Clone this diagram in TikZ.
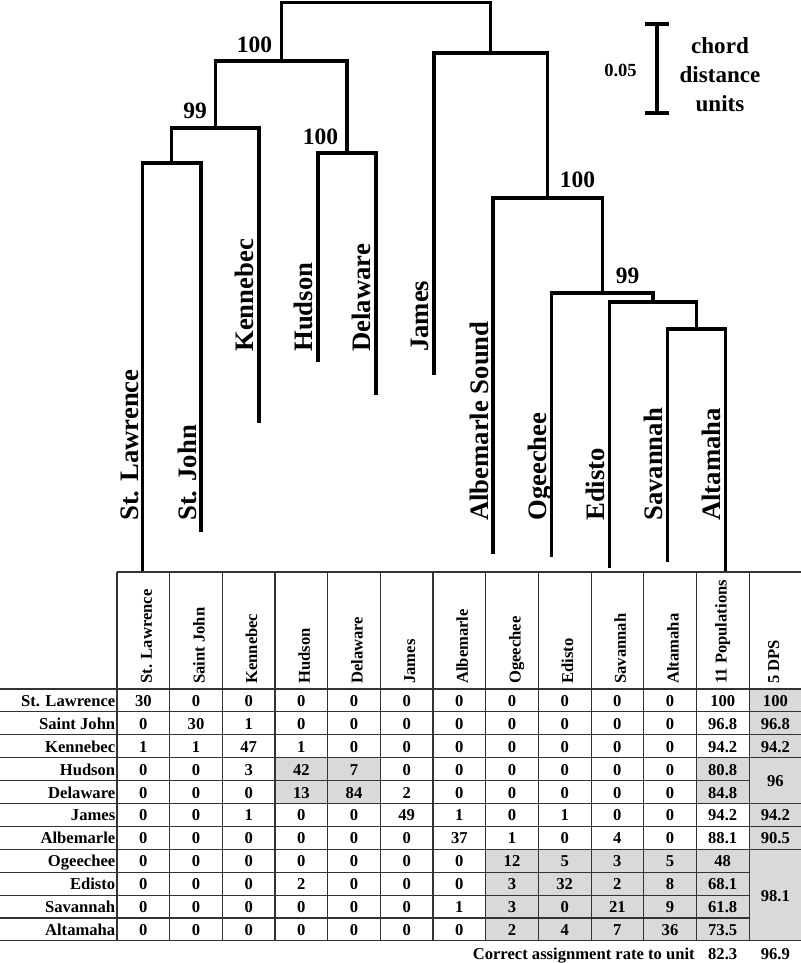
\documentclass[tikz,border=0pt]{standalone}
\usepackage{fontspec}
\setmainfont{Liberation Serif}
\begin{document}
\begin{tikzpicture}[x=0.75pt,y=-0.75pt,
  branch/.style={line width=2.5pt, line join=miter, line cap=rect},
  leaflabel/.style={rotate=90, anchor=base west, inner sep=0pt, font=\fontsize{20}{24}\selectfont\bfseries},
  bootlabel/.style={anchor=base, inner sep=0pt, font=\fontsize{17.6}{20}\selectfont\bfseries},
  gridline/.style={line width=0.8pt, draw=black!80},
  celltext/.style={anchor=base, inner sep=0pt, font=\fontsize{12.45}{14}\selectfont\bfseries},
  headtext/.style={rotate=90, anchor=base west, inner sep=0pt, font=\fontsize{12.45}{14}\selectfont\bfseries},
  shadecell/.style={fill=black!15, draw=none}]

\useasboundingbox (0,0) rectangle (800,963);

% ---------------- dendrogram ----------------
\coordinate (StL) at (142.5,569);
\coordinate (StJ) at (201,530);
\coordinate (Ken) at (259,421);
\coordinate (Hud) at (318,360);
\coordinate (Del) at (376,393);
\coordinate (Jam) at (434,373);
\coordinate (Alb) at (493,552);
\coordinate (Oge) at (551.5,555);
\coordinate (Edi) at (609.5,566);
\coordinate (Sav) at (667.5,560);
\coordinate (Alt) at (725.5,569);
\coordinate (n1) at (171.75,163);
\coordinate (n2) at (215.4,128);
\coordinate (n3) at (347,153);
\coordinate (n4) at (281.2,61);
\coordinate (n5) at (696.5,329);
\coordinate (n6) at (653,302);
\coordinate (n7) at (602.25,293);
\coordinate (n8) at (547.6,198);
\coordinate (n9) at (490.8,53);
\coordinate (root) at (386,2.5);

\draw[branch] (StL) |- (n1) -| (StJ);
\draw[branch] (n1) |- (n2) -| (Ken);
\draw[branch] (Hud) |- (n3) -| (Del);
\draw[branch] (n2) |- (n4) -| (n3);
\draw[branch] (Sav) |- (n5) -| (Alt);
\draw[branch] (Edi) |- (n6) -| (n5);
\draw[branch] (Oge) |- (n7) -| (n6);
\draw[branch] (Alb) |- (n8) -| (n7);
\draw[branch] (Jam) |- (n9) -| (n8);
\draw[branch] (n4) |- (root) -| (n9);

\node[leaflabel] (lStL) at (138,521) {St. Lawrence};
\node[leaflabel] (lStJ) at (196.5,521) {St. John};
\node[leaflabel] (lKen) at (253.5,352) {Kennebec};
\node[leaflabel] (lHud) at (312.5,352) {Hudson};
\node[leaflabel] (lDel) at (370.5,352) {Delaware};
\node[leaflabel] (lJam) at (428.5,352) {James};
\node[leaflabel] (lAlb) at (488,521) {Albemarle Sound};
\node[leaflabel] (lOge) at (546.5,521) {Ogeechee};
\node[leaflabel] (lEdi) at (604,521) {Edisto};
\node[leaflabel] (lSav) at (662,521) {Savannah};
\node[leaflabel] (lAlt) at (720.5,521) {Altamaha};

\node[bootlabel] (b4) at (254.5,52.5) {100};
\node[bootlabel] (b2) at (195,119) {99};
\node[bootlabel] (b3) at (320.5,145) {100};
\node[bootlabel] (b8) at (577.5,187) {100};
\node[bootlabel] (b7) at (627.5,283) {99};

% scale bar
\coordinate (sbtl) at (645,24);
\coordinate (sbtr) at (669,24);
\coordinate (sbt) at (657,24);
\coordinate (sbb) at (657,113);
\coordinate (sbbl) at (645,113);
\coordinate (sbbr) at (669,113);
\draw[line width=2.5pt] (sbtl) -- (sbtr);
\draw[line width=2.5pt] (sbt) -- (sbb);
\draw[line width=2.5pt] (sbbl) -- (sbbr);
\node[inner sep=0pt, font=\fontsize{13.9}{16}\selectfont\bfseries] (sblabel) at (620.5,70) {0.05};
\node[inner sep=0pt, align=center, font=\fontsize{17.3}{21.5}\selectfont\bfseries] (units) at (720,74.5) {chord\\distance\\units};

% ---------------- table ----------------
% shading
\fill[shadecell] (275.01,757.7) rectangle (380.35,803.5);
\fill[shadecell] (696.37,757.7) rectangle (749.04,803.5);
\fill[shadecell] (749.04,689) rectangle (801.71,940.9);
\fill[shadecell] (485.69,849.3) rectangle (749.04,940.9);

% grid
\draw[gridline] (117,572) -- (801.71,572);
\foreach \j in {0,1,2,3,5,6,7,11} {
  \draw[gridline] (0,{689+22.9*\j}) -- (801.71,{689+22.9*\j});
}
\foreach \j in {4,8,9,10} {
  \draw[gridline] (0,{689+22.9*\j}) -- (749.04,{689+22.9*\j});
}
\foreach \i in {0,...,12} {
  \draw[gridline] ({117+52.67*\i},572) -- ({117+52.67*\i},940.9);
}

% header labels
\foreach \h [count=\i from 0] in {St. Lawrence,Saint John,Kennebec,Hudson,Delaware,James,Albemarle,Ogeechee,Edisto,Savannah,Altamaha} {
  \node[headtext] (head\i) at ({117+52.67*(\i+0.5)+8.5},684) {\h};
}
\node[headtext] (head11) at (726.7,684) {11 Populations};
\node[headtext] (head12) at (779,684) {5 DPS};

% body
\foreach \name/\vals [count=\j from 0] in {
  St. Lawrence/{30,0,0,0,0,0,0,0,0,0,0,100},
  Saint John/{0,30,1,0,0,0,0,0,0,0,0,96.8},
  Kennebec/{1,1,47,1,0,0,0,0,0,0,0,94.2},
  Hudson/{0,0,3,42,7,0,0,0,0,0,0,80.8},
  Delaware/{0,0,0,13,84,2,0,0,0,0,0,84.8},
  James/{0,0,1,0,0,49,1,0,1,0,0,94.2},
  Albemarle/{0,0,0,0,0,0,37,1,0,4,0,88.1},
  Ogeechee/{0,0,0,0,0,0,0,12,5,3,5,48},
  Edisto/{0,0,0,2,0,0,0,3,32,2,8,68.1},
  Savannah/{0,0,0,0,0,0,1,3,0,21,9,61.8},
  Altamaha/{0,0,0,0,0,0,0,2,4,7,36,73.5}} {
  \node[celltext, anchor=base east] (row\j) at (115.5,{706.45+22.9*\j}) {\name};
  \foreach \v [count=\i from 0] in \vals {
    \node[celltext] (cell-\j-\i) at ({117+52.67*(\i+0.5)},{706.45+22.9*\j}) {\v};
  }
}

% 5 DPS column
\node[celltext] (dps0) at (775.4,706.45) {100};
\node[celltext] (dps1) at (775.4,729.35) {96.8};
\node[celltext] (dps2) at (775.4,752.25) {94.2};
\node[celltext] (dps34) at (775.4,786.6) {96};
\node[celltext] (dps5) at (775.4,820.95) {94.2};
\node[celltext] (dps6) at (775.4,843.85) {90.5};
\node[celltext] (dps710) at (775.4,901.1) {98.1};

% bottom line
\node[celltext, anchor=base east] (total) at (695,959) {Correct assignment rate to unit};
\node[celltext] (tot11) at (722.7,959) {82.3};
\node[celltext] (tot5) at (775.4,959) {96.9};
\end{tikzpicture}
\end{document}
